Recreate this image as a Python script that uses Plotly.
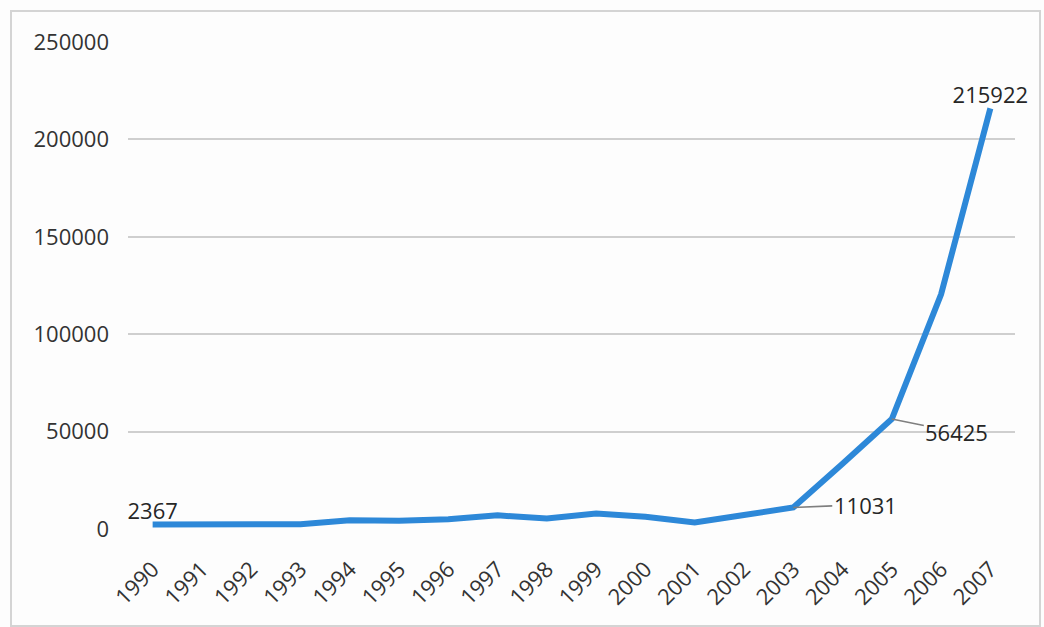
import plotly.graph_objects as go

years = [str(y) for y in range(1990, 2008)]
values = [2367, 2300, 2500, 2500, 4500, 4200, 5000, 7000, 5400, 8000,
          6300, 3400, 7200, 11031, 33500, 56425, 120500, 215922]
y_ticks = [0, 50000, 100000, 150000, 200000, 250000]

# labelled points
lbl_top = {"1990": "2367", "2007": "215922"}
lbl_side = {"2003": ("11031", 72, -3), "2005": ("56425", 65, 13)}

FONT = "Open Sans, Liberation Sans, sans-serif"
TXT = "#333333"
BLUE = "#2D88D8"

fig = go.Figure()
fig.add_trace(go.Scatter(
    x=years, y=values, mode="lines",
    line=dict(color=BLUE, width=6), hoverinfo="skip", showlegend=False,
))
top_x = [k for k in lbl_top]
fig.add_trace(go.Scatter(
    x=top_x, y=[values[years.index(k)] for k in top_x],
    mode="text", text=[lbl_top[k] for k in top_x], textposition="top center",
    textfont=dict(family=FONT, size=22, color="#262626"), cliponaxis=False,
    showlegend=False, hoverinfo="skip",
))

annotations = []
for k, (t, ax, ay) in lbl_side.items():
    i = years.index(k)
    annotations.append(dict(
        x=i, y=values[i], xref="x", yref="y",
        text=t, showarrow=True, arrowhead=0, arrowwidth=1.6, arrowcolor="#7f7f7f",
        ax=ax, ay=ay, font=dict(family=FONT, size=22, color="#262626"),
    ))

W, H = 1044, 627
L, R, T, B = 128, 29, 42, 98
pw, ph = W - L - R, H - T - B

def px_x(p):
    return (p - L) / pw

def px_y(p):
    return (H - B - p) / ph

shapes = [dict(type="rect", xref="paper", yref="paper",
               x0=px_x(11), x1=px_x(1040), y0=px_y(626), y1=px_y(11),
               line=dict(color="#d4d4d4", width=2), fillcolor="rgba(0,0,0,0)", layer="below")]

fig.update_layout(
    width=W, height=H,
    margin=dict(l=L, r=R, t=T, b=B),
    paper_bgcolor="#fdfdfd", plot_bgcolor="#fdfdfd",
    font=dict(family=FONT, color=TXT),
    xaxis=dict(type="category", range=[-0.5, 17.5], showgrid=False, zeroline=False,
               showline=False, tickangle=-45, tickfont=dict(family=FONT, size=22, color=TXT),
               ticks="", ticklabelstandoff=22),
    yaxis=dict(range=[0, 250000], tickvals=y_ticks, ticktext=[str(v) for v in y_ticks],
               showgrid=True, gridcolor="#cfcfcf", gridwidth=1.6, zeroline=False,
               showline=False, tickfont=dict(family=FONT, size=22, color=TXT),
               ticks="", ticklabelstandoff=18),
    annotations=annotations,
    shapes=shapes,
)

fig.write_html("out.html", config={"displayModeBar": False},
               post_script="document.body.style.margin='0';document.body.style.padding='0';")
